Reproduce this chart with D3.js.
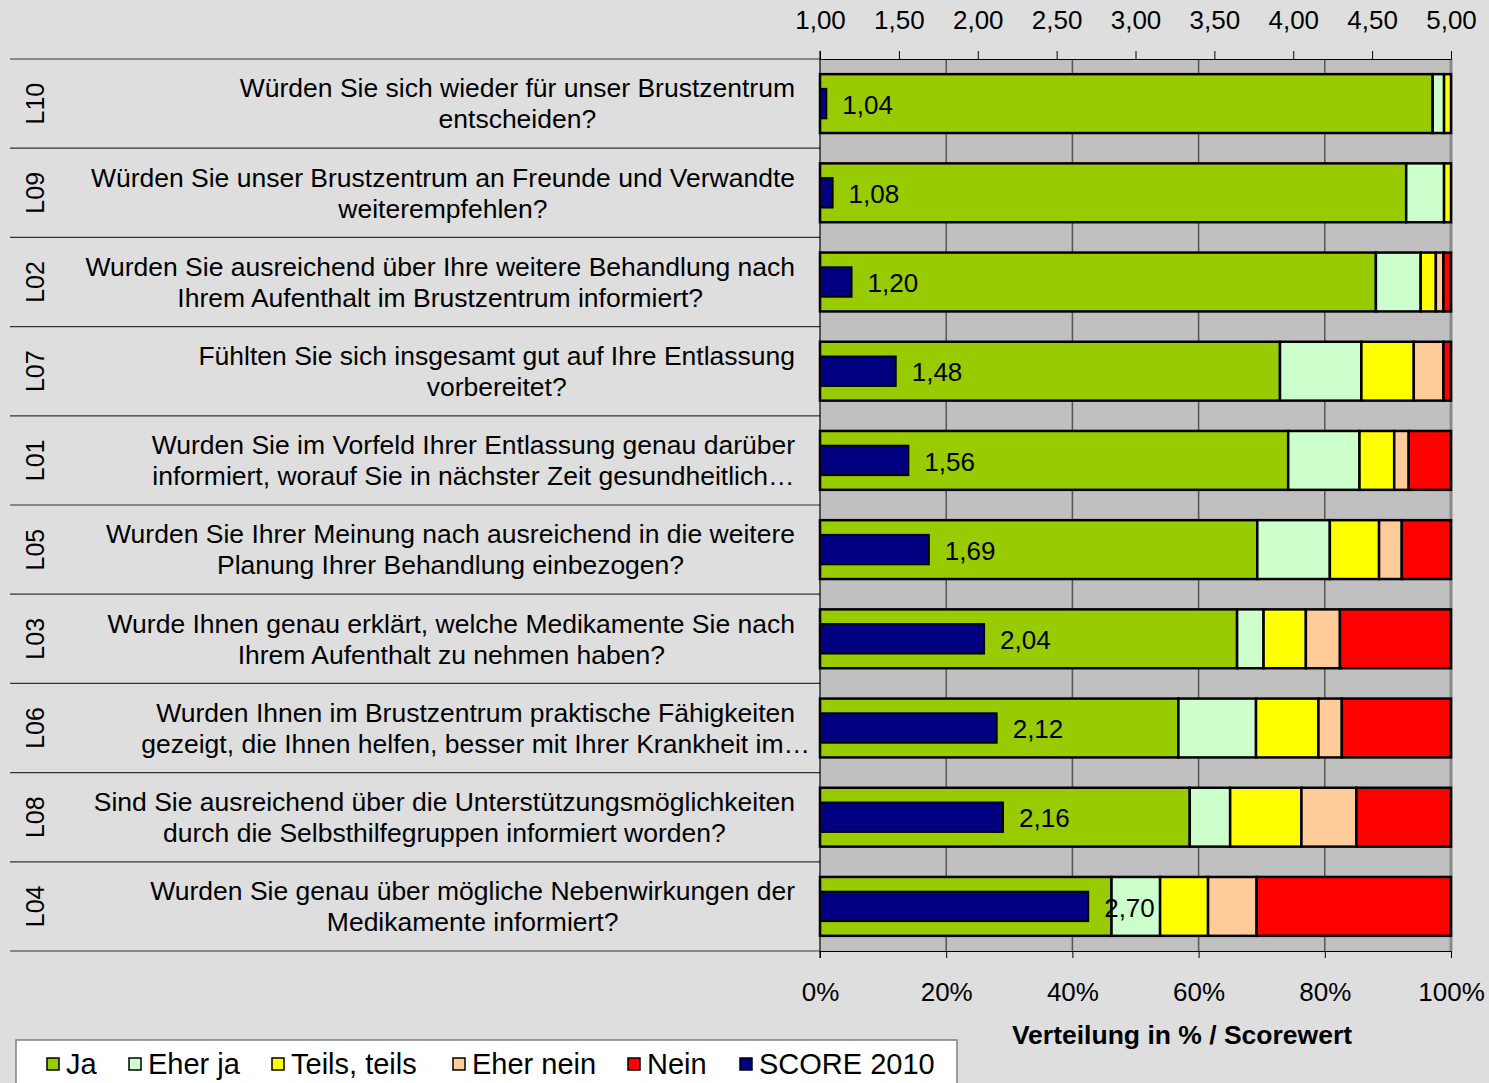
<!DOCTYPE html>
<html>
<head>
<meta charset="utf-8">
<script src="https://cdn.jsdelivr.net/npm/d3@7"></script>
<style>
  body { margin: 0; background: #dedede; }
  svg { display: block; font-family: "Liberation Sans", Arial, sans-serif; }
</style>
</head>
<body>
<div id="chart"></div>
<script>
// question codes, top to bottom
const codes = ["L10", "L09", "L02", "L07", "L01", "L05", "L03", "L06", "L08", "L04"];
const questions = [
  ["Würden Sie sich wieder für unser Brustzentrum", "entscheiden?"],
  ["Würden Sie unser Brustzentrum an Freunde und Verwandte", "weiterempfehlen?"],
  ["Wurden Sie ausreichend über Ihre weitere Behandlung nach", "Ihrem Aufenthalt im Brustzentrum informiert?"],
  ["Fühlten Sie sich insgesamt gut auf Ihre Entlassung", "vorbereitet?"],
  ["Wurden Sie im Vorfeld Ihrer Entlassung genau darüber", "informiert, worauf Sie in nächster Zeit gesundheitlich…"],
  ["Wurden Sie Ihrer Meinung nach ausreichend in die weitere", "Planung Ihrer Behandlung einbezogen?"],
  ["Wurde Ihnen genau erklärt, welche Medikamente Sie nach", "Ihrem Aufenthalt zu nehmen haben?"],
  ["Wurden Ihnen im Brustzentrum praktische Fähigkeiten", "gezeigt, die Ihnen helfen, besser mit Ihrer Krankheit im…"],
  ["Sind Sie ausreichend über die Unterstützungsmöglichkeiten", "durch die Selbsthilfegruppen informiert worden?"],
  ["Wurden Sie genau über mögliche Nebenwirkungen der", "Medikamente informiert?"]
];

// answer distribution in %
const categories = ["Ja", "Eher ja", "Teils, teils", "Eher nein", "Nein"];
const ja       = [97.1, 92.9, 88.1, 72.9, 74.2, 69.3, 66.1, 56.8, 58.6, 46.2];
const eherJa   = [ 1.8,  6.0,  7.1, 12.9, 11.3, 11.5,  4.2, 12.3,  6.4,  7.7];
const teils    = [ 1.1,  1.1,  2.4,  8.3,  5.5,  7.8,  6.7,  9.9, 11.3,  7.6];
const eherNein = [ 0.0,  0.0,  1.2,  4.7,  2.3,  3.6,  5.4,  3.7,  8.7,  7.7];
const nein     = [ 0.0,  0.0,  1.2,  1.2,  6.7,  7.8, 17.6, 17.3, 15.0, 30.8];
const scores   = [1.04, 1.08, 1.20, 1.48, 1.56, 1.69, 2.04, 2.12, 2.16, 2.70];

const scoreTicks = [1, 1.5, 2, 2.5, 3, 3.5, 4, 4.5, 5];
const pctTicks = [0, 20, 40, 60, 80, 100];
const colors = ["#99cc00", "#ccffcc", "#ffff00", "#ffcc99", "#ff0000"];
const scoreColor = "#000080";
const scoreName = "SCORE 2010";

const width = 1489, height = 1083;
const plotLeft = 820, plotRight = 1451, plotTop = 59, plotBottom = 951;
const fontSize = 26.5;
const comma = v => d3.format(".2f")(v).replace(".", ",");

const svg = d3.select("#chart").append("svg")
  .attr("width", width)
  .attr("height", height);

svg.append("rect").attr("width", width).attr("height", height).attr("fill", "#dedede");

const y = d3.scaleBand().domain(codes).range([plotTop, plotBottom]).padding(0);
const xPct = d3.scaleLinear().domain([0, 100]).range([plotLeft, plotRight]);
const xScore = d3.scaleLinear().domain([1, 5]).range([plotLeft, plotRight]);

// plot background + grid
svg.append("rect")
  .attr("x", plotLeft).attr("y", plotTop)
  .attr("width", plotRight - plotLeft).attr("height", plotBottom - plotTop)
  .attr("fill", "#c0c0c0");

svg.append("g").selectAll("line")
  .data(pctTicks.slice(1, -1))
  .join("line")
  .attr("x1", d => xPct(d)).attr("x2", d => xPct(d))
  .attr("y1", plotTop).attr("y2", plotBottom)
  .attr("stroke", "#555").attr("stroke-width", 1.5);

svg.append("line")
  .attr("x1", plotRight).attr("x2", plotRight)
  .attr("y1", plotTop).attr("y2", plotBottom)
  .attr("stroke", "#8a8a8a").attr("stroke-width", 3);

// row separators in label area
svg.append("g").selectAll("line")
  .data(d3.range(codes.length + 1))
  .join("line")
  .attr("x1", 10).attr("x2", plotLeft)
  .attr("y1", i => plotTop + i * y.bandwidth())
  .attr("y2", i => plotTop + i * y.bandwidth())
  .attr("stroke", "#333").attr("stroke-width", 1.2);

// stacked bars
const table = codes.map((c, i) => ({
  code: c, "Ja": ja[i], "Eher ja": eherJa[i], "Teils, teils": teils[i],
  "Eher nein": eherNein[i], "Nein": nein[i]
}));
const stacked = d3.stack().keys(categories)(table);
const barH = y.bandwidth() * 0.66;
const scoreH = y.bandwidth() * 0.33;

svg.append("g").selectAll("g")
  .data(stacked)
  .join("g")
  .attr("fill", (d, i) => colors[i])
  .selectAll("rect")
  .data(d => d.filter(s => s[1] - s[0] > 0))
  .join("rect")
  .attr("x", d => xPct(d[0]))
  .attr("width", d => xPct(d[1]) - xPct(d[0]))
  .attr("y", d => y(d.data.code) + (y.bandwidth() - barH) / 2)
  .attr("height", barH)
  .attr("stroke", "#000").attr("stroke-width", 2.5);

// score bars
svg.append("g").selectAll("rect")
  .data(scores)
  .join("rect")
  .attr("x", xScore(1))
  .attr("width", d => xScore(d) - xScore(1))
  .attr("y", (d, i) => y(codes[i]) + (y.bandwidth() - scoreH) / 2)
  .attr("height", scoreH)
  .attr("fill", scoreColor)
  .attr("stroke", "#000").attr("stroke-width", 2);

svg.append("g").selectAll("text")
  .data(scores)
  .join("text")
  .attr("x", d => xScore(d) + 16)
  .attr("y", (d, i) => y(codes[i]) + y.bandwidth() / 2 + 1)
  .attr("dy", "0.35em")
  .attr("font-size", 26)
  .attr("fill", "#000")
  .text(d => comma(d));

// left axis line
svg.append("line")
  .attr("x1", plotLeft).attr("x2", plotLeft)
  .attr("y1", plotTop - 8).attr("y2", plotBottom + 7)
  .attr("stroke", "#000").attr("stroke-width", 1.2);

// top axis (score)
const topAxis = svg.append("g")
  .attr("transform", `translate(0,${plotTop})`)
  .call(d3.axisTop(xScore).tickValues(scoreTicks).tickFormat(comma).tickSize(8).tickPadding(22).tickSizeOuter(0));
topAxis.select(".domain").attr("stroke", "#000").attr("stroke-width", 1.2);
topAxis.selectAll(".tick line").attr("stroke", "#000");
topAxis.selectAll("text").attr("font-size", 26).attr("font-family", "Liberation Sans, Arial, sans-serif").attr("fill", "#000");

// bottom axis (percent)
const bottomAxis = svg.append("g")
  .attr("transform", `translate(0,${plotBottom})`)
  .call(d3.axisBottom(xPct).tickValues(pctTicks).tickFormat(d => d + "%").tickSize(7).tickPadding(25).tickSizeOuter(0));
bottomAxis.select(".domain").attr("stroke", "#000").attr("stroke-width", 1.2);
bottomAxis.selectAll(".tick line").attr("stroke", "#000");
bottomAxis.selectAll("text").attr("font-size", 26).attr("font-family", "Liberation Sans, Arial, sans-serif").attr("fill", "#000");

svg.append("text")
  .attr("x", 1182).attr("y", 1044)
  .attr("text-anchor", "middle")
  .attr("font-size", fontSize).attr("font-weight", "bold")
  .text("Verteilung in % / Scorewert");

// row labels
const labels = svg.append("g");
codes.forEach((c, i) => {
  const cy = y(c) + y.bandwidth() / 2;
  labels.append("text")
    .attr("transform", `translate(35,${cy}) rotate(-90)`)
    .attr("text-anchor", "middle")
    .attr("dy", "0.35em")
    .attr("font-size", 25)
    .text(c);

  const g = labels.append("g");
  const t1 = g.append("text")
    .attr("y", cy - 15.5).attr("dy", "0.35em")
    .attr("font-size", fontSize).attr("text-anchor", "middle")
    .text(questions[i][0]);
  const w1 = t1.node().getComputedTextLength();
  const center = 795 - w1 / 2;
  t1.attr("x", center);
  g.append("text")
    .attr("x", center)
    .attr("y", cy + 15.5).attr("dy", "0.35em")
    .attr("font-size", fontSize).attr("text-anchor", "middle")
    .text(questions[i][1]);
});

// legend
const legend = svg.append("g");
legend.append("rect")
  .attr("x", 16).attr("y", 1040).attr("width", 941).attr("height", 60)
  .attr("fill", "#fff").attr("stroke", "#808080").attr("stroke-width", 1.5);

const legendItems = categories.map((c, i) => ({ name: c, color: colors[i] }))
  .concat([{ name: scoreName, color: scoreColor }]);
const legendX = [47, 129, 272, 453, 628, 740];
legend.selectAll("g")
  .data(legendItems)
  .join("g")
  .attr("transform", (d, i) => `translate(${legendX[i]},1064)`)
  .each(function(d) {
    const item = d3.select(this);
    item.append("rect")
      .attr("x", 0).attr("y", -6).attr("width", 12).attr("height", 12)
      .attr("fill", d.color).attr("stroke", "#000").attr("stroke-width", 1.5);
    item.append("text")
      .attr("x", 19).attr("dy", "0.35em")
      .attr("font-size", 29)
      .text(d.name);
  });
</script>
</body>
</html>
